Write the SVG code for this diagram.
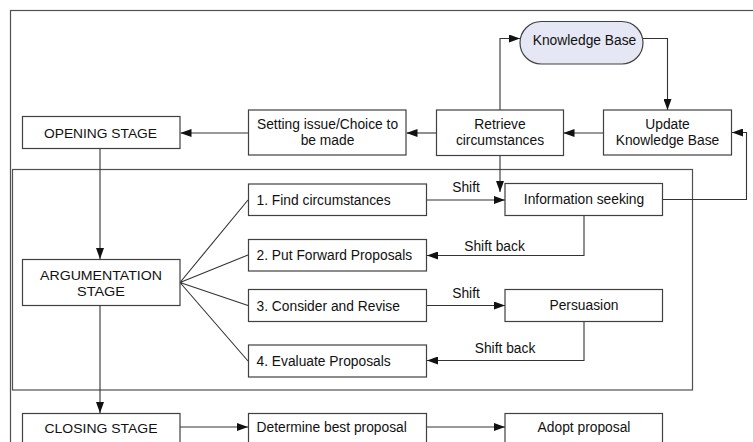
<svg xmlns="http://www.w3.org/2000/svg" width="753" height="442" viewBox="0 0 753 442">
  <style>
    .frame { fill: none; stroke: #505050; stroke-width: 1.2; }
    .box { fill: #ffffff; stroke: #404040; stroke-width: 1.2; }
    .kb { fill: #e6e7f4; stroke: #404040; stroke-width: 1.2; }
    .t { font-family: "Liberation Sans", Arial, sans-serif; font-size: 13.8px; fill: #111; }
    .c { text-anchor: middle; }
    .caps { font-size: 13px; }
    .edge { fill: none; stroke: #333; stroke-width: 1.1; }
    .arr { marker-end: url(#head); }
  </style>
  <defs>
    <marker id="head" viewBox="0 0 11 8" refX="11" refY="4" markerWidth="11" markerHeight="8" markerUnits="userSpaceOnUse" orient="auto">
      <path d="M0,0 L11,4 L0,8 Z" fill="#111"/>
    </marker>
  </defs>

  <!-- outer and argumentation frames -->
  <rect class="frame" x="10.5" y="10.5" width="760" height="450"/>
  <rect class="frame" x="12.5" y="169.5" width="680" height="220.5"/>

  <!-- connectors -->
  <g id="connectors">
    <path class="edge arr" d="M500,110 V38.5 H520"/>
    <path class="edge arr" d="M643,38.5 H667.5 V110"/>
    <path class="edge arr" d="M603.5,133 H563.5"/>
    <path class="edge arr" d="M436.5,133 H406.5"/>
    <path class="edge arr" d="M248,133 H180.5"/>
    <path class="edge arr" d="M662.5,199.5 H746.5 V132.5 H732"/>
    <path class="edge arr" d="M500,155 V192"/>
    <path class="edge arr" d="M100,148.5 V259"/>
    <path class="edge arr" d="M100,305.5 V413"/>
    <path class="edge" d="M180,282.5 L248,200 M180,282.5 L248,255 M180,282.5 L248,305.5 M180,282.5 L248,361"/>
    <path class="edge arr" d="M426.5,200 H505"/>
    <path class="edge arr" d="M584,215.5 V255.5 H427"/>
    <path class="edge arr" d="M426.5,305.5 H505"/>
    <path class="edge arr" d="M584,321.5 V360.5 H427"/>
    <path class="edge arr" d="M180,427 H248"/>
    <path class="edge arr" d="M426.5,427 H505"/>
    <text class="t c" x="466" y="192">Shift</text>
    <text class="t c" x="494.5" y="251">Shift back</text>
    <text class="t c" x="466" y="297.5">Shift</text>
    <text class="t c" x="505" y="353">Shift back</text>
  </g>

  <!-- top row -->
  <g id="knowledge-base">
    <rect class="kb" x="520" y="21.5" width="123" height="42.5" rx="21.25" ry="21.25"/>
    <text class="t c" x="584.5" y="45">Knowledge Base</text>
  </g>
  <g id="opening-stage">
    <rect class="box" x="22.5" y="116.5" width="157.5" height="32"/>
    <text class="t c caps" x="100.5" y="137.5" textLength="113" lengthAdjust="spacingAndGlyphs">OPENING STAGE</text>
  </g>
  <g id="setting-issue">
    <rect class="box" x="248.5" y="110" width="157.5" height="45"/>
    <text class="t c" x="327.5" y="128.5">Setting issue/Choice to</text>
    <text class="t c" x="327.5" y="144.5">be made</text>
  </g>
  <g id="retrieve">
    <rect class="box" x="436.5" y="110" width="127" height="45.5"/>
    <text class="t c" x="500" y="128.5">Retrieve</text>
    <text class="t c" x="500" y="144.5">circumstances</text>
  </g>
  <g id="update-kb">
    <rect class="box" x="603.5" y="110" width="128" height="45"/>
    <text class="t c" x="667.5" y="128.5">Update</text>
    <text class="t c" x="667.5" y="144.5">Knowledge Base</text>
  </g>

  <!-- argumentation stage -->
  <g id="argumentation-stage">
    <rect class="box" x="22.5" y="259.5" width="157.5" height="46"/>
    <text class="t c caps" x="101" y="279.5" textLength="122" lengthAdjust="spacingAndGlyphs">ARGUMENTATION</text>
    <text class="t c caps" x="101" y="295.5" textLength="48" lengthAdjust="spacingAndGlyphs">STAGE</text>
  </g>
  <g id="find-circumstances">
    <rect class="box" x="248.5" y="184" width="178" height="31.5"/>
    <text class="t" x="256.5" y="204.5">1. Find circumstances</text>
  </g>
  <g id="put-forward">
    <rect class="box" x="248.5" y="239.5" width="178" height="31.5"/>
    <text class="t" x="256.5" y="260">2. Put Forward Proposals</text>
  </g>
  <g id="consider-revise">
    <rect class="box" x="248.5" y="289.5" width="178" height="32"/>
    <text class="t" x="256.5" y="310.5">3. Consider and Revise</text>
  </g>
  <g id="evaluate">
    <rect class="box" x="248.5" y="345" width="178" height="32"/>
    <text class="t" x="256.5" y="366">4. Evaluate Proposals</text>
  </g>
  <g id="information-seeking">
    <rect class="box" x="505" y="183.5" width="157.5" height="32"/>
    <text class="t c" x="584" y="204">Information seeking</text>
  </g>
  <g id="persuasion">
    <rect class="box" x="505" y="289.5" width="157.5" height="32"/>
    <text class="t c" x="584" y="310">Persuasion</text>
  </g>

  <!-- closing row -->
  <g id="closing-stage">
    <rect class="box" x="22.5" y="413.5" width="157.5" height="32"/>
    <text class="t c caps" x="101" y="432.5" textLength="113" lengthAdjust="spacingAndGlyphs">CLOSING STAGE</text>
  </g>
  <g id="determine-best">
    <rect class="box" x="248.5" y="413.5" width="178" height="32"/>
    <text class="t" x="256.5" y="432">Determine best proposal</text>
  </g>
  <g id="adopt-proposal">
    <rect class="box" x="505" y="413.5" width="157.5" height="32"/>
    <text class="t c" x="584" y="432">Adopt proposal</text>
  </g>
</svg>
